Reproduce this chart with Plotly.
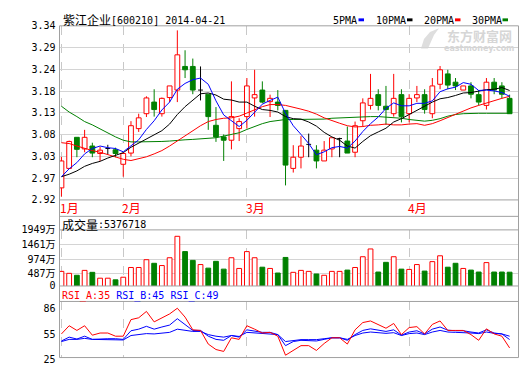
import plotly.graph_objects as go

# ---------------- data ----------------
open_ = [2.949, 2.996, 3.071, 3.043, 3.050, 3.032, 3.044, 3.041, 3.006, 3.033,
         3.092, 3.128, 3.156, 3.128, 3.167, 3.185, 3.242, 3.242, 3.185, 3.175,
         3.100, 3.072, 3.064, 3.092, 3.121, 3.166, 3.185, 3.157, 3.156, 3.136,
         2.996, 3.023, 3.054, 3.040, 3.014, 3.043, 3.068, 3.062, 3.035, 3.111,
         3.148, 3.174, 3.146, 3.128, 3.174, 3.128, 3.166, 3.174, 3.128, 3.199,
         3.224, 3.204, 3.185, 3.195, 3.174, 3.148, 3.204, 3.195, 3.165]
high = [3.024, 3.063, 3.071, 3.089, 3.058, 3.048, 3.053, 3.046, 3.034, 3.110,
        3.128, 3.170, 3.187, 3.167, 3.195, 3.329, 3.281, 3.261, 3.242, 3.175,
        3.144, 3.078, 3.206, 3.117, 3.214, 3.234, 3.206, 3.174, 3.185, 3.137,
        3.052, 3.074, 3.080, 3.052, 3.062, 3.070, 3.070, 3.097, 3.109, 3.165,
        3.224, 3.187, 3.195, 3.224, 3.187, 3.175, 3.195, 3.187, 3.214, 3.243,
        3.234, 3.214, 3.195, 3.204, 3.185, 3.214, 3.214, 3.204, 3.174]
low = [2.928, 2.996, 3.023, 3.035, 3.023, 3.014, 3.030, 3.023, 2.976, 3.025,
       3.084, 3.120, 3.121, 3.121, 3.156, 3.156, 3.214, 3.175, 3.160, 3.089,
       3.060, 3.014, 3.042, 3.062, 3.092, 3.121, 3.153, 3.120, 3.136, 2.955,
       2.986, 2.996, 3.023, 2.996, 3.014, 3.023, 3.023, 3.033, 3.023, 3.097,
       3.138, 3.136, 3.101, 3.121, 3.107, 3.107, 3.156, 3.128, 3.117, 3.187,
       3.187, 3.185, 3.185, 3.165, 3.148, 3.138, 3.175, 3.165, 3.128]
close = [3.014, 3.061, 3.042, 3.071, 3.033, 3.040, 3.044, 3.032, 3.032, 3.099,
         3.118, 3.166, 3.138, 3.165, 3.195, 3.270, 3.234, 3.185, 3.185, 3.121,
         3.072, 3.064, 3.121, 3.109, 3.195, 3.174, 3.156, 3.165, 3.148, 3.004,
         3.023, 3.050, 3.054, 3.014, 3.040, 3.070, 3.068, 3.033, 3.099, 3.154,
         3.165, 3.148, 3.138, 3.165, 3.121, 3.165, 3.174, 3.138, 3.195, 3.234,
         3.197, 3.195, 3.195, 3.175, 3.156, 3.204, 3.185, 3.175, 3.128]

ma5 = [2.976, 2.995, 3.010, 3.031, 3.044, 3.050, 3.046, 3.044, 3.036, 3.050,
       3.065, 3.090, 3.111, 3.137, 3.156, 3.187, 3.201, 3.210, 3.214, 3.199,
       3.159, 3.125, 3.112, 3.097, 3.112, 3.132, 3.151, 3.160, 3.168, 3.129,
       3.099, 3.078, 3.056, 3.029, 3.036, 3.046, 3.049, 3.045, 3.062, 3.085,
       3.104, 3.120, 3.141, 3.154, 3.147, 3.147, 3.153, 3.153, 3.159, 3.181,
       3.188, 3.192, 3.203, 3.199, 3.184, 3.185, 3.183, 3.179, 3.170]
ma10 = [2.976, 2.982, 2.990, 3.001, 3.008, 3.013, 3.021, 3.027, 3.034, 3.047,
        3.057, 3.068, 3.077, 3.087, 3.103, 3.126, 3.145, 3.160, 3.176, 3.178,
        3.173, 3.163, 3.161, 3.156, 3.156, 3.146, 3.138, 3.136, 3.132, 3.121,
        3.116, 3.115, 3.108, 3.098, 3.083, 3.072, 3.064, 3.050, 3.045, 3.061,
        3.075, 3.084, 3.093, 3.108, 3.116, 3.126, 3.136, 3.147, 3.156, 3.164,
        3.167, 3.172, 3.178, 3.179, 3.182, 3.186, 3.187, 3.191, 3.184]
ma20 = [3.058, 3.056, 3.050, 3.044, 3.039, 3.035, 3.029, 3.023, 3.018, 3.015,
        3.019, 3.024, 3.031, 3.039, 3.050, 3.062, 3.075, 3.088, 3.099, 3.109,
        3.114, 3.117, 3.118, 3.122, 3.130, 3.138, 3.145, 3.150, 3.150, 3.148,
        3.144, 3.139, 3.134, 3.127, 3.118, 3.111, 3.105, 3.099, 3.096, 3.097,
        3.100, 3.101, 3.103, 3.101, 3.101, 3.103, 3.104, 3.100, 3.104, 3.111,
        3.119, 3.127, 3.134, 3.142, 3.148, 3.154, 3.160, 3.165, 3.170]
ma30 = [3.146, 3.132, 3.121, 3.109, 3.101, 3.091, 3.082, 3.072, 3.064, 3.060,
        3.060, 3.060, 3.060, 3.061, 3.062, 3.064, 3.065, 3.066, 3.067, 3.068,
        3.070, 3.074, 3.078, 3.082, 3.090, 3.097, 3.104, 3.109, 3.112, 3.114,
        3.114, 3.114, 3.114, 3.114, 3.115, 3.117, 3.118, 3.119, 3.120, 3.120,
        3.121, 3.121, 3.120, 3.119, 3.117, 3.114, 3.112, 3.110, 3.112, 3.116,
        3.122, 3.126, 3.128, 3.129, 3.129, 3.129, 3.129, 3.129, 3.129]

volume_wan = [565, 500, 435, 598, 533, 338, 338, 283, 370, 695,
              695, 955, 835, 760, 1020, 1735, 1225, 932, 793, 673,
              900, 640, 1020, 663, 1225, 1020, 705, 663, 510, 1030,
              533, 598, 565, 478, 435, 565, 565, 608, 695, 1053,
              1313, 543, 867, 1053, 640, 630, 793, 575, 890, 1085,
              705, 835, 663, 608, 543, 858, 543, 543, 537.6718]

rsi_a = [51.7, 61.5, 55.9, 61.5, 50.2, 52.8, 52.8, 49.0, 49.0, 68.8,
         71.0, 78.6, 66.1, 70.6, 75.6, 82.4, 71.8, 56.6, 55.9, 39.6,
         33.1, 30.8, 47.1, 45.2, 61.5, 57.4, 52.8, 53.6, 49.0, 26.3,
         32.0, 37.7, 37.7, 32.0, 40.3, 47.1, 47.1, 39.6, 56.6, 65.3,
         67.2, 63.1, 58.5, 64.2, 50.9, 59.3, 60.4, 51.7, 63.1, 67.2,
         55.9, 55.9, 55.9, 50.9, 44.1, 57.8, 51.7, 49.0, 35.0]
rsi_b = [43.3, 47.9, 45.6, 49.0, 45.2, 46.0, 46.0, 46.0, 45.2, 55.5,
         57.4, 60.8, 57.4, 60.0, 62.3, 69.9, 63.1, 55.9, 55.9, 49.0,
         45.2, 44.1, 49.8, 47.9, 56.6, 54.7, 53.6, 53.6, 50.9, 37.7,
         42.6, 44.1, 44.1, 43.3, 45.2, 47.1, 47.1, 44.1, 50.9, 55.9,
         57.8, 56.2, 54.7, 56.6, 50.2, 54.0, 55.5, 51.7, 57.4, 60.0,
         56.2, 55.5, 55.5, 54.0, 52.8, 56.6, 52.8, 51.7, 45.0]
rsi_c = [42.6, 45.2, 45.2, 46.4, 45.2, 45.2, 45.2, 45.2, 44.5, 49.8,
         50.9, 52.1, 51.7, 52.8, 53.6, 57.4, 56.2, 54.7, 54.7, 50.9,
         49.0, 47.9, 49.8, 48.7, 53.6, 52.8, 51.7, 51.7, 50.9, 42.6,
         44.1, 44.9, 44.9, 44.9, 46.0, 47.1, 47.1, 45.2, 49.8, 52.8,
         54.0, 53.2, 52.4, 53.2, 49.8, 52.1, 52.8, 50.9, 54.0, 55.9,
         54.0, 53.6, 53.6, 52.8, 52.1, 54.0, 52.4, 51.7, 49.0]

month_labels = ["1月", "2月", "3月", "4月"]
month_idx = [0, 8, 24, 45]
price_tick_labels = ["2.92", "2.97", "3.03", "3.08", "3.13", "3.18", "3.24", "3.29", "3.34"]
price_min, price_max = 2.92, 3.34
vol_tick_labels = ["0", "487万", "974万", "1461万", "1949万"]
vol_tick_values = [78, 487, 974, 1461, 1949]
rsi_ticks = [25, 55, 86]
stock_title = "紫江企业"
stock_code_date = "[600210] 2014-04-21"

# ---------------- helpers ----------------
W, H = 520, 365
def pyp(p):
    return (H - p) / H
def pxp(p):
    return p / W

UP = "#ff0000"
DOWN = "#008000"
DOJI = "#000000"
MONO = "DejaVu Sans Mono, Noto Sans CJK SC"
CJK = "Noto Sans CJK SC"
BODY_W = 0.62

n = len(close)
xs = list(range(n))
up_i = [i for i in xs if close[i] > open_[i]]
dn_i = [i for i in xs if close[i] < open_[i]]
dj_i = [i for i in xs if close[i] == open_[i]]

fig = go.Figure()

def wick_segments(idx):
    wx, wy = [], []
    for i in idx:
        top = max(open_[i], close[i])
        bot = min(open_[i], close[i])
        wx += [i, i, None, i, i, None]
        wy += [high[i], top, None, bot, low[i], None]
    return wx, wy

for idx, col in ((up_i, UP), (dn_i, DOWN)):
    wx, wy = wick_segments(idx)
    fig.add_trace(go.Scatter(x=wx, y=wy, mode="lines", line=dict(color=col, width=1),
                             xaxis="x", yaxis="y", hoverinfo="skip"))

# doji crosses
dx, dy = [], []
for i in dj_i:
    dx += [i, i, None, i - BODY_W / 2, i + BODY_W / 2, None]
    dy += [high[i], low[i], None, open_[i], open_[i], None]
fig.add_trace(go.Scatter(x=dx, y=dy, mode="lines", line=dict(color=DOJI, width=1),
                         xaxis="x", yaxis="y", hoverinfo="skip"))

# bodies
for idx, fill, col in ((up_i, "white", UP), (dn_i, DOWN, DOWN)):
    fig.add_trace(go.Bar(
        x=idx,
        base=[min(open_[i], close[i]) for i in idx],
        y=[abs(close[i] - open_[i]) for i in idx],
        width=BODY_W, marker=dict(color=fill, line=dict(color=col, width=1)),
        xaxis="x", yaxis="y", hoverinfo="skip"))

# moving averages
for ser, col in ((ma30, "#008000"), (ma20, "#ff0000"), (ma10, "#000000"), (ma5, "#0000ff")):
    fig.add_trace(go.Scatter(x=xs, y=ser, mode="lines", line=dict(color=col, width=1),
                             xaxis="x", yaxis="y", hoverinfo="skip"))

# volume
vup = [i for i in xs if close[i] >= open_[i]]
vdn = [i for i in xs if close[i] < open_[i]]
fig.add_trace(go.Bar(x=vup, y=[volume_wan[i] for i in vup], width=BODY_W,
                     marker=dict(color="white", line=dict(color=UP, width=1)),
                     xaxis="x2", yaxis="y2", hoverinfo="skip"))
fig.add_trace(go.Bar(x=vdn, y=[volume_wan[i] for i in vdn], width=BODY_W,
                     marker=dict(color=DOWN, line=dict(color=DOWN, width=1)),
                     xaxis="x2", yaxis="y2", hoverinfo="skip"))

# RSI
for ser, col in ((rsi_c, "#0000ff"), (rsi_b, "#0000ff"), (rsi_a, "#ff0000")):
    fig.add_trace(go.Scatter(x=xs, y=ser, mode="lines", line=dict(color=col, width=1),
                             xaxis="x3", yaxis="y3", hoverinfo="skip"))

# ---------------- axes ----------------
XDOM = [pxp(59.5), pxp(518.5)]
xcommon = dict(domain=XDOM, range=[-0.25, 59.15], tickvals=month_idx, showticklabels=False,
               showgrid=True, gridcolor="#c8c8c8", griddash="dash", gridwidth=1,
               zeroline=False, showline=False, ticks="", fixedrange=True)
GRID = "#d4d4d4"
step = (price_max - price_min) / (len(price_tick_labels) - 1)
price_tickvals = [price_min + k * step for k in range(len(price_tick_labels))]
ycommon = dict(showline=False, zeroline=False, ticks="", ticklabelstandoff=3,
               tickfont=dict(family=MONO, size=10, color="black"), fixedrange=True)

fig.update_layout(
    width=W, height=H, margin=dict(l=0, r=0, t=0, b=0),
    paper_bgcolor="white", plot_bgcolor="white", showlegend=False,
    barmode="overlay", hovermode=False,
    xaxis=dict(anchor="y", **xcommon),
    xaxis2=dict(anchor="y2", matches="x", **xcommon),
    xaxis3=dict(anchor="y3", matches="x", **xcommon),
    yaxis=dict(domain=[pyp(200.5), pyp(20.5)], range=[price_min, price_max],
               tickvals=price_tickvals, ticktext=price_tick_labels,
               showgrid=True, gridcolor=GRID, **ycommon),
    yaxis2=dict(domain=[pyp(289.5), pyp(231.5)], range=[vol_tick_values[0], vol_tick_values[-1]],
                tickvals=vol_tick_values, ticktext=vol_tick_labels,
                showgrid=True, gridcolor=GRID, **ycommon),
    yaxis3=dict(domain=[pyp(363.5), pyp(305.5)], range=[23.5, 90.5],
                tickvals=rsi_ticks, ticktext=[str(t) for t in rsi_ticks],
                ticklabelshift=3, showgrid=False, **ycommon),
)

# ---------------- frames ----------------
BORDER = "#a0a0a0"
shapes = [dict(type="rect", xref="paper", yref="paper", x0=pxp(59.5), x1=pxp(518.5),
               y0=pyp(363.5), y1=pyp(20.5), line=dict(color=BORDER, width=1))]
for yy in (200.5, 217.5, 231.5, 289.5, 305.5):
    shapes.append(dict(type="line", xref="paper", yref="paper", x0=pxp(59.5), x1=pxp(518.5),
                       y0=pyp(yy), y1=pyp(yy), line=dict(color=BORDER, width=1)))
# legend swatches
legend_items = [("5PMA", "#0000ff", 331, 358.5), ("10PMA", "#000000", 374, 407),
                ("20PMA", "#ff0000", 422, 455), ("30PMA", "#008000", 470, 502.5)]
for name, col, tx, sx in legend_items:
    shapes.append(dict(type="rect", xref="paper", yref="paper", x0=pxp(sx), x1=pxp(sx + 5.5),
                       y0=pyp(15.8), y1=pyp(12.8), fillcolor=col, line=dict(width=0)))
# watermark swoosh
def pth(pts):
    s = "M %f %f " % (pxp(pts[0][0]), pyp(pts[0][1]))
    for a, b in pts[1:]:
        s += "L %f %f " % (pxp(a), pyp(b))
    return s + "Z"
shapes.append(dict(type="path", xref="paper", yref="paper",
                   path=pth([(421, 44), (424, 34), (430, 27), (439, 23), (434, 30), (431, 37), (428, 44)]),
                   fillcolor="#dedede", line=dict(width=0), layer="below"))
fig.update_layout(shapes=shapes)

# ---------------- texts ----------------
ann = []
def text(t, x, y, size, family, color="black", anchor="left", bold=False, pad=1):
    if bold:
        t = "<b>" + t + "</b>"
    ann.append(dict(text=t, x=pxp(x), y=pyp(y), xref="paper", yref="paper",
                    xanchor=anchor, yanchor="middle", showarrow=False, borderpad=pad,
                    font=dict(size=size, family=family, color=color)))

text(stock_title, 61, 14, 12, CJK)
text(stock_code_date, 109, 14.5, 10, MONO)
for name, col, tx, sx in legend_items:
    text(name, tx, 14.5, 10, MONO)
text("东方财富网", 479, 30.5, 13, CJK, color="#d6d6d6", anchor="center", bold=True, pad=0)
text("eastmoney.com", 479, 44, 8, "DejaVu Sans", color="#d6d6d6", anchor="center", bold=True, pad=0)
for lab, mi in zip(month_labels, month_idx):
    ann.append(dict(text=lab, x=mi, y=pyp(208.5), xref="x", yref="paper", xanchor="left",
                    yanchor="middle", xshift=-3, showarrow=False,
                    font=dict(size=12, family=CJK, color="#ff0000")))
vol_last = int(round(volume_wan[-1] * 10000))
text("成交量", 60, 225.5, 12, CJK)
text(":%d" % vol_last, 96, 226, 10, MONO)
rsi_header = ('<span style="color:#ff0000">RSI_A:%d</span> '
              '<span style="color:#0000ff">RSI_B:%d</span> '
              '<span style="color:#0000ff">RSI_C:%d</span>') % (round(rsi_a[-1]), round(rsi_b[-1]), round(rsi_c[-1]))
text(rsi_header, 60, 300, 10, MONO)
fig.update_layout(annotations=ann)

fig.write_html("out.html", config={"displayModeBar": False},
               post_script="document.body.style.margin='0';document.body.style.padding='0';")
